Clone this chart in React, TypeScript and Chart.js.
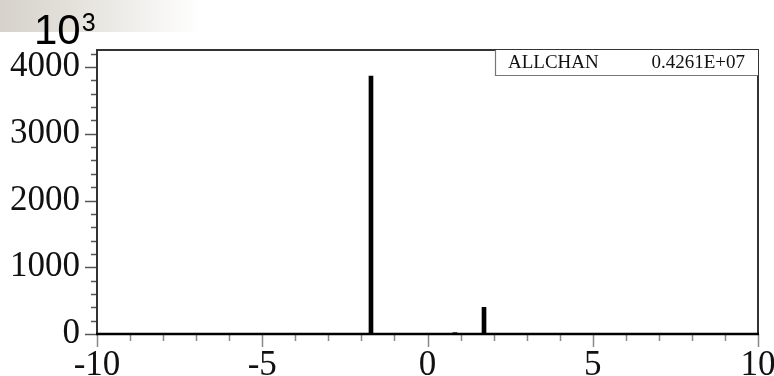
import React, { useEffect, useRef } from "react";
import { Chart, registerables } from "chart.js";

Chart.register(...registerables);

// Data
const binCenters = [-1.71, 0.83, 1.71];
const counts = [3865, 20, 400];
const xMajorTicks = [-10, -5, 0, 5, 10];
const yMajorTicks = [0, 1000, 2000, 3000, 4000];
const xRange = [-10, 10];
const yRange = [0, 4255];
const statsName = "ALLCHAN";
const statsValue = "0.4261E+07";
const exponentBase = "10";
const exponentPower = "3";

const framePlugin = {
  id: "rootFrame",
  beforeDraw(chart: any) {
    const ctx = chart.ctx;
    ctx.save();
    const g = ctx.createLinearGradient(0, 0, 200, 0);
    g.addColorStop(0, "#d6d2ca");
    g.addColorStop(0.55, "#ebe9e4");
    g.addColorStop(1, "#ffffff");
    ctx.fillStyle = g;
    ctx.fillRect(0, 0, 200, 32);
    ctx.fillStyle = "#000";
    ctx.textBaseline = "alphabetic";
    ctx.textAlign = "left";
    ctx.font = "42px 'Liberation Sans', Arial, sans-serif";
    ctx.fillText(exponentBase, 34, 44);
    const w = ctx.measureText(exponentBase).width;
    ctx.font = "25px 'Liberation Sans', Arial, sans-serif";
    ctx.fillText(exponentPower, 34 + w + 1, 31);
    ctx.restore();
  },
  afterDraw(chart: any) {
    const ctx = chart.ctx;
    const { left, right, top, bottom } = chart.chartArea;
    const xs = chart.scales.x;
    const ys = chart.scales.y;
    ctx.save();
    // y ticks (outside, left)
    ctx.strokeStyle = "#555";
    ctx.lineWidth = 1.5;
    for (let v = yRange[0]; v <= yRange[1]; v += 200) {
      const y = Math.round(ys.getPixelForValue(v)) + 0.5;
      const major = v % 1000 === 0;
      ctx.beginPath();
      ctx.moveTo(left, y);
      ctx.lineTo(left - (major ? 12 : 6), y);
      ctx.stroke();
    }
    // x ticks (outside, below)
    ctx.strokeStyle = "#888";
    for (let v = xRange[0]; v <= xRange[1]; v += 1) {
      const x = Math.round(xs.getPixelForValue(v)) + 0.5;
      const major = v % 5 === 0;
      ctx.beginPath();
      ctx.moveTo(x, bottom);
      ctx.lineTo(x, bottom + (major ? 13 : 7));
      ctx.stroke();
    }
    // frame
    ctx.strokeStyle = "#333";
    ctx.lineWidth = 2;
    ctx.beginPath();
    ctx.moveTo(left, bottom);
    ctx.lineTo(left, top);
    ctx.lineTo(right, top);
    ctx.lineTo(right, bottom);
    ctx.stroke();
    ctx.strokeStyle = "#000";
    ctx.lineWidth = 2.5;
    ctx.beginPath();
    ctx.moveTo(left - 1, bottom);
    ctx.lineTo(right + 1, bottom);
    ctx.stroke();
    // stats box
    const bx0 = 495, by0 = top, bx1 = right, by1 = 75;
    ctx.fillStyle = "#fff";
    ctx.fillRect(bx0, by0, bx1 - bx0, by1 - by0);
    ctx.strokeStyle = "#777";
    ctx.lineWidth = 1.2;
    ctx.beginPath();
    ctx.moveTo(bx0 + 0.5, by0);
    ctx.lineTo(bx0 + 0.5, by1 + 0.5);
    ctx.lineTo(bx1, by1 + 0.5);
    ctx.stroke();
    ctx.fillStyle = "#111";
    ctx.font = "19px 'Liberation Serif', 'Times New Roman', serif";
    ctx.textBaseline = "alphabetic";
    ctx.textAlign = "left";
    ctx.fillText(statsName, 508, 68);
    ctx.textAlign = "right";
    ctx.fillText(statsValue, 745, 68);
    ctx.restore();
  },
};

export default function App() {
  const ref = useRef<HTMLCanvasElement | null>(null);
  useEffect(() => {
    if (!ref.current) return;
    const chart = new Chart(ref.current, {
      type: "bar",
      data: {
        datasets: [
          {
            data: binCenters.map((x, i) => ({ x, y: counts[i] })),
            backgroundColor: "#000",
            borderWidth: 0,
            barThickness: 4,
          },
        ],
      },
      options: {
        responsive: false,
        animation: false,
        layout: { padding: { top: 50, right: 16, left: 0, bottom: 0 } },
        plugins: { legend: { display: false }, tooltip: { enabled: false } },
        scales: {
          x: {
            type: "linear",
            min: xRange[0],
            max: xRange[1],
            offset: false,
            grid: { display: false, drawTicks: false },
            border: { display: false },
            afterBuildTicks: (s: any) => {
              s.ticks = xMajorTicks.map((v) => ({ value: v }));
            },
            afterFit: (s: any) => {
              s.height = 42;
              s.paddingLeft = 0;
              s.paddingRight = 0;
            },
            ticks: {
              autoSkip: false,
              maxRotation: 0,
              padding: 11,
              color: "#111",
              font: { family: "'Liberation Serif', 'Times New Roman', serif", size: 35 },
              callback: (v: any) => String(v),
            },
          },
          y: {
            min: yRange[0],
            max: yRange[1],
            grid: { display: false, drawTicks: false },
            border: { display: false },
            afterBuildTicks: (s: any) => {
              s.ticks = yMajorTicks.map((v) => ({ value: v }));
            },
            afterFit: (s: any) => {
              s.width = 97;
              s.paddingTop = 0;
              s.paddingBottom = 0;
            },
            ticks: {
              autoSkip: false,
              padding: 17,
              color: "#111",
              font: { family: "'Liberation Serif', 'Times New Roman', serif", size: 35 },
              callback: (v: any) => String(v),
            },
          },
        },
      },
      plugins: [framePlugin],
    });
    return () => chart.destroy();
  }, []);
  return (
    <div style={{ position: "fixed", left: 0, top: 0, width: 774, height: 376, background: "#fff" }}>
      <canvas ref={ref} width={774} height={376} style={{ display: "block", width: 774, height: 376 }} />
    </div>
  );
}
